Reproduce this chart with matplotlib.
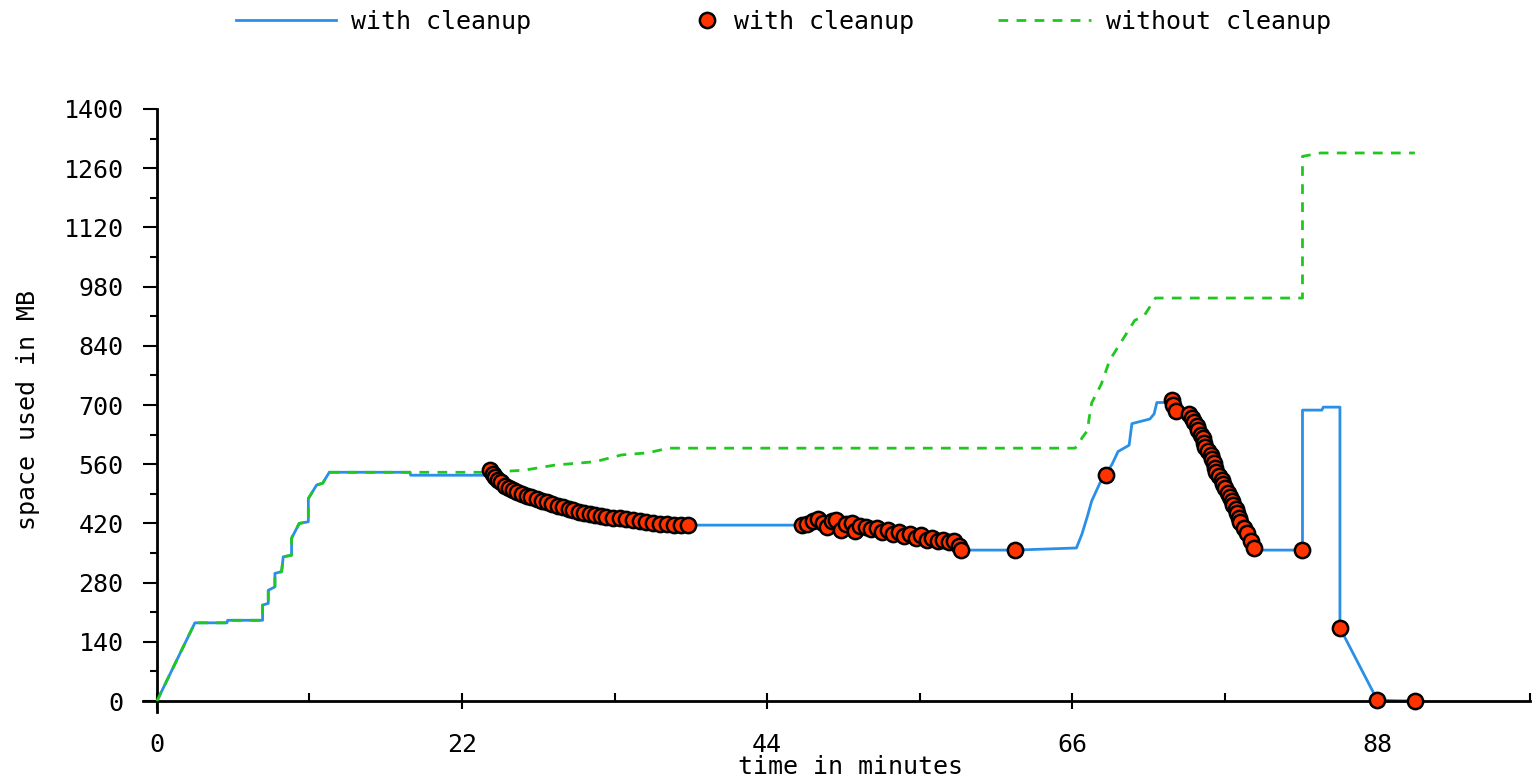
import matplotlib
matplotlib.use("Agg")
import matplotlib.pyplot as plt
from matplotlib.lines import Line2D
from matplotlib.ticker import MultipleLocator

plt.rcParams['font.family'] = ['DejaVu Sans Mono']
plt.rcParams['lines.scale_dashes'] = False

# ---- data ----
# "with cleanup" line (time in minutes, MB)
line_t = [0, 2.74, 5.05, 5.1, 7.62, 7.62, 8.03, 8.03, 8.51, 8.51, 8.99, 9.11, 9.71, 9.71,
          10.26, 10.92, 10.92, 11.52, 11.95, 12.43, 18.25, 18.3, 23.7, 24.0, 25.7, 28.1,
          30.7, 33.6, 36.5, 38.3, 46.5, 48.3, 50.2, 52.3, 54.3, 56.3, 58.0, 61.9, 66.3,
          66.7, 67.1, 67.4, 68.0, 68.4, 68.9, 69.3, 70.1, 70.3, 71.6, 71.9, 72.1, 72.95,
          73.3, 74.5, 75.6, 76.8, 77.9, 78.6, 79.1, 82.6, 82.6, 84.0, 84.1, 85.3, 85.3,
          88.0, 90.7]
line_mb = [0, 185, 185, 191, 191, 227, 231, 262, 270, 302, 306, 341, 345, 385,
           420, 424, 479, 511, 515, 541, 541, 534, 534, 541, 499, 470,
           445, 432, 418, 416, 416, 414, 410, 402, 392, 380, 357, 357, 362,
           395, 438, 473, 516, 534, 562, 590, 605, 656, 667, 679, 706, 706,
           700, 676, 601, 523, 444, 397, 357, 357, 688, 688, 695, 695, 173,
           2, 0]

# "with cleanup" sample points
pts_t = [24.0, 24.2, 24.4, 24.6, 24.8, 25.1, 25.4, 25.7, 26.0, 26.3, 26.7, 27.0, 27.4,
         27.8, 28.1, 28.5, 28.9, 29.3, 29.7, 30.0, 30.4, 30.8, 31.2, 31.6, 32.0, 32.4,
         32.9, 33.4, 33.8, 34.3, 34.8, 35.3, 35.8, 36.3, 36.8, 37.3, 37.8, 38.3,
         46.5, 46.9, 47.3, 47.7, 48.0, 48.3, 48.7, 49.0, 49.3, 49.7, 50.1, 50.3, 50.7,
         51.1, 51.5, 51.9, 52.3, 52.7, 53.1, 53.5, 53.9, 54.3, 54.7, 55.1, 55.5, 55.9,
         56.3, 56.7, 57.1, 57.5, 57.8, 58.0,
         61.9, 68.4,
         73.2, 73.3, 73.5, 74.4, 74.6, 74.8, 75.0, 75.1, 75.3, 75.4, 75.5, 75.6, 75.8,
         76.0, 76.1, 76.2, 76.3, 76.4, 76.6, 76.8, 76.9, 77.0, 77.2, 77.4, 77.5, 77.6,
         77.8, 77.9, 78.0, 78.1, 78.4, 78.6, 78.9, 79.1,
         82.6, 85.3, 88.0, 90.7]
pts_mb = [546, 538, 530, 523, 517, 508, 503, 499, 494, 490, 485, 482, 478,
          474, 470, 465, 462, 459, 455, 452, 448, 445, 442, 440, 437, 435,
          433, 432, 430, 428, 425, 423, 421, 419, 418, 417, 416, 416,
          416, 418, 425, 431, 420, 412, 426, 428, 405, 418, 422, 402, 414,
          412, 406, 410, 400, 404, 396, 400, 391, 394, 386, 392, 381, 386,
          378, 382, 375, 379, 366, 357,
          357, 534,
          712, 700, 686, 678, 670, 661, 650, 641, 630, 621, 611, 601, 592,
          582, 572, 562, 552, 542, 533, 523, 513, 503, 493, 483, 473, 463,
          453, 444, 434, 424, 410, 397, 378, 361,
          357, 173, 2, 0]

# "without cleanup" line
nc_t = [0, 2.74, 5.05, 5.1, 7.62, 7.62, 8.03, 8.03, 8.51, 8.51, 8.99, 9.11, 9.71, 9.71,
        10.26, 10.92, 10.92, 11.52, 11.95, 12.43, 24.0, 26.5, 28.7, 31.6, 33.5, 35.4,
        36.9, 66.2, 66.4, 66.7, 67.1, 67.2, 67.4, 68.1, 68.7, 70.5, 71.2, 72.0, 82.6,
        82.6, 83.9, 90.7]
nc_mb = [0, 185, 185, 191, 191, 227, 231, 262, 270, 302, 306, 341, 345, 385,
         420, 424, 479, 511, 515, 541, 541, 546, 558, 566, 582, 587,
         598, 598, 605, 622, 640, 665, 705, 750, 806, 900, 912, 953, 953,
         1288, 1296, 1296]

x_major = [0, 22, 44, 66, 88]
y_major = [0, 140, 280, 420, 560, 700, 840, 980, 1120, 1260, 1400]

BLUE = '#2A8FE6'
GREEN = '#1FC81F'
RED = '#FF3300'

fig = plt.figure(figsize=(15.33, 7.78), dpi=100)
ax = fig.add_axes([0.0933, 0.0853, 0.9047, 0.7746])

ax.plot(line_t, line_mb, color=BLUE, lw=2.0, zorder=2)
ax.plot(nc_t, nc_mb, color=GREEN, lw=2.0, linestyle=(0, (7, 6)), zorder=3)
ax.plot(pts_t, pts_mb, linestyle='none', marker='o', ms=11, mfc=RED, mec='black',
        mew=1.8, zorder=4)

ax.set_xlim(-1, 99)
ax.set_ylim(-25, 1400)
ax.spines['left'].set_position(('data', 0))
ax.spines['bottom'].set_position(('data', 0))
ax.spines['top'].set_visible(False)
ax.spines['right'].set_visible(False)
for s in ('left', 'bottom'):
    ax.spines[s].set_linewidth(2.0)

ax.set_xticks(x_major)
ax.set_xticklabels([str(v) for v in x_major])
ax.set_yticks(y_major)
ax.set_yticklabels([str(v) for v in y_major])
ax.xaxis.set_minor_locator(MultipleLocator(11))
ax.yaxis.set_minor_locator(MultipleLocator(70))

ax.tick_params(axis='x', which='major', direction='inout', length=12, width=1.5,
               pad=17, labelsize=18)
ax.tick_params(axis='x', which='minor', direction='in', length=6, width=1.5)
ax.tick_params(axis='y', which='major', direction='out', length=10, width=1.5,
               pad=14, labelsize=18)
ax.tick_params(axis='y', which='minor', direction='out', length=5, width=1.5)

ax.set_xlabel('time in minutes', fontsize=18)
ax.set_ylabel('space used in MB', fontsize=18)
ax.xaxis.set_label_coords(0.51, -0.072)
ax.yaxis.set_label_coords(-0.074, 0.5)

# legend (three separate entries, laid out as in the reference)
h1 = Line2D([], [], color=BLUE, lw=2.0)
h2 = Line2D([], [], linestyle='none', marker='o', ms=11, mfc=RED, mec='black', mew=1.8)
h3 = Line2D([], [], color=GREEN, lw=2.0, linestyle=(0, (7, 6)))
W, H = 1533.0, 778.0
common = dict(frameon=False, loc='center left', borderpad=0, borderaxespad=0,
              fontsize=18, handletextpad=0.6)
fig.legend([h1], ['with cleanup'], bbox_to_anchor=(236 / W, 1 - 22 / H),
           handlelength=4.0, **common)
fig.legend([h2], ['with cleanup'], bbox_to_anchor=(694 / W, 1 - 22 / H),
           handlelength=1.0, **common)
fig.legend([h3], ['without cleanup'], bbox_to_anchor=(998 / W, 1 - 22 / H),
           handlelength=3.7, **common)

fig.savefig('out.png', dpi=100)
